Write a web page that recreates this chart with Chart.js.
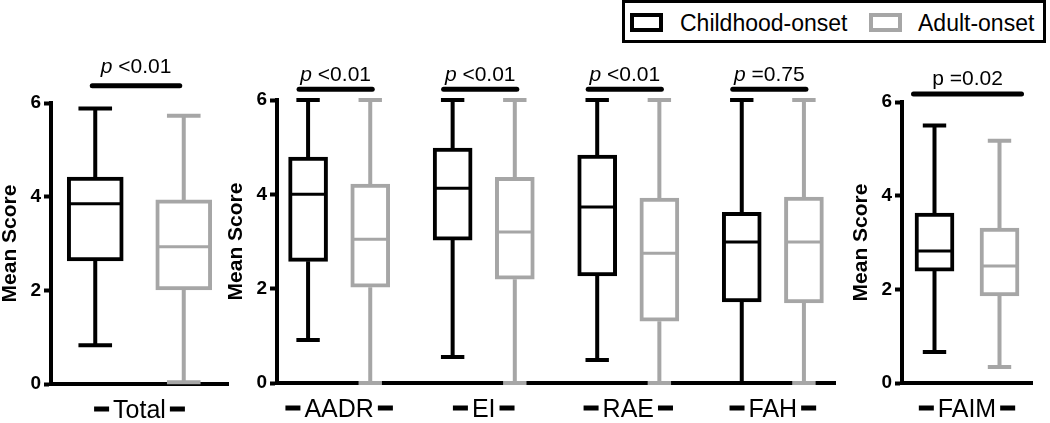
<!DOCTYPE html>
<html>
<head>
<meta charset="utf-8">
<script src="https://cdn.jsdelivr.net/npm/chart.js@4.4.0/dist/chart.umd.min.js"></script>
<style>
  html, body { margin: 0; padding: 0; background: #fff; }
  #wrap { position: relative; width: 1050px; height: 423px; overflow: hidden;
          font-family: "Liberation Sans", Arial, sans-serif; }
  .panel { position: absolute; top: 0; height: 423px; }
  .panel canvas { display: block; }
  #legend { position: absolute; left: 622px; top: 0; width: 424px; height: 43px;
            box-sizing: border-box; border: 3px solid #000; background: #fff; }
  #legend .sw { position: absolute; top: 10px; width: 33px; height: 19px; box-sizing: border-box; border: 4px solid; }
  #legend .lb { position: absolute; top: 7px; font-size: 23px; line-height: 26px; color: #000; }
</style>
</head>
<body>
<div id="wrap">
  <div class="panel" style="left:0;width:240px"><canvas id="c1" width="240" height="423"></canvas></div>
  <div class="panel" style="left:226px;width:619px"><canvas id="c2" width="619" height="423"></canvas></div>
  <div class="panel" style="left:851px;width:199px"><canvas id="c3" width="199" height="423"></canvas></div>
  <div id="legend">
    <div class="sw" style="left:5px;border-color:#000"></div>
    <div class="lb" style="left:55px">Childhood-onset</div>
    <div class="sw" style="left:244px;border-color:#a6a6a6"></div>
    <div class="lb" style="left:293px">Adult-onset</div>
  </div>
</div>
<script>
// categories, in the order they appear left to right
const categories = ['Total', 'AADR', 'EI', 'RAE', 'FAH', 'FAIM'];

// Childhood-onset box stats
const childMin = [0.83, 0.91, 0.55, 0.49, 0.00, 0.66];
const childQ1  = [2.63, 2.58, 3.03, 2.27, 1.72, 2.39];
const childMed = [3.85, 4.00, 4.13, 3.73, 2.99, 2.82];
const childQ3  = [4.42, 4.79, 4.98, 4.83, 3.62, 3.63];
const childMax = [5.88, 6.00, 6.00, 6.00, 6.00, 5.50];

// Adult-onset box stats
const adultMin = [0.04, 0.00, 0.00, 0.00, 0.00, 0.34];
const adultQ1  = [2.01, 2.03, 2.20, 1.31, 1.70, 1.86];
const adultMed = [2.93, 3.05, 3.20, 2.75, 2.99, 2.50];
const adultQ3  = [3.93, 4.22, 4.36, 3.92, 3.94, 3.31];
const adultMax = [5.73, 6.00, 6.00, 6.00, 6.00, 5.17];

// p values above each pair
const pValues = ['<0.01', '<0.01', '<0.01', '<0.01', '=0.75', '=0.02'];
const pItalic = [true, true, true, true, true, false];

const yTicks = [0, 2, 4, 6];

const CHILD_COLOR = '#000000';
const ADULT_COLOR = '#a6a6a6';
const FONT = '"Liberation Sans", Arial, sans-serif';
const GROUP_OFFSET = 0.215;   // half distance between the two boxes, in category units
const EDGE = 0.43;            // axis overhang left/right of outer categories

const boxPlugin = {
  id: 'boxes',
  afterDatasetsDraw(chart) {
    const ctx = chart.ctx;
    const y = chart.scales.y;
    const o = chart.options.plugins.boxes;
    ctx.save();
    ctx.lineCap = 'butt';
    chart.data.datasets.forEach((ds, di) => {
      const meta = chart.getDatasetMeta(di);
      meta.data.forEach((bar, i) => {
        const { x, width } = bar.getProps(['x', 'width'], true);
        const cap = width * 0.6;
        const pMin = y.getPixelForValue(ds.whiskerMin[i]);
        const pMax = y.getPixelForValue(ds.whiskerMax[i]);
        const pQ1 = y.getPixelForValue(ds.data[i].y[0]);
        const pQ3 = y.getPixelForValue(ds.data[i].y[1]);
        const pMed = y.getPixelForValue(ds.median[i]);
        ctx.strokeStyle = ds.borderColor;
        ctx.lineWidth = 4;
        ctx.beginPath();
        ctx.moveTo(x, pQ1); ctx.lineTo(x, pMin);
        ctx.moveTo(x - cap / 2, pMin); ctx.lineTo(x + cap / 2, pMin);
        ctx.moveTo(x, pQ3); ctx.lineTo(x, pMax);
        ctx.moveTo(x - cap / 2, pMax); ctx.lineTo(x + cap / 2, pMax);
        ctx.stroke();
        ctx.lineWidth = 3;
        ctx.beginPath();
        ctx.moveTo(x - width / 2 + 2, pMed); ctx.lineTo(x + width / 2 - 2, pMed);
        ctx.stroke();
      });
    });

    // significance bars + p text
    const m0 = chart.getDatasetMeta(0), m1 = chart.getDatasetMeta(1);
    m0.data.forEach((bar, i) => {
      const x1 = bar.x + o.sigPad[0];
      const x2 = m1.data[i].x + o.sigPad[1];
      const sy = y.getPixelForValue(o.sigLevel);
      ctx.strokeStyle = '#000';
      ctx.lineWidth = 5;
      ctx.lineCap = 'round';
      ctx.beginPath(); ctx.moveTo(x1, sy); ctx.lineTo(x2, sy); ctx.stroke();
      const k = o.from + i;
      const pf = (pItalic[k] ? 'italic ' : '') + '21px ' + FONT;
      const rf = '21px ' + FONT;
      ctx.font = pf; const wp = ctx.measureText('p').width;
      ctx.font = rf; const rest = ' ' + pValues[k]; const wr = ctx.measureText(rest).width;
      const tx = (x1 + x2) / 2 - (wp + wr) / 2;
      const ty = sy - o.textGap;
      ctx.fillStyle = '#000';
      ctx.textBaseline = 'alphabetic';
      ctx.textAlign = 'left';
      ctx.font = pf; ctx.fillText('p', tx, ty);
      ctx.font = rf; ctx.fillText(rest, tx + wp, ty);
    });

    // dashes either side of category labels
    const xs = chart.scales.x;
    ctx.font = '25px ' + FONT;
    ctx.lineWidth = 5;
    ctx.lineCap = 'butt';
    ctx.strokeStyle = '#000';
    xs.ticks.forEach((t) => {
      const px = xs.getPixelForValue(t.value);
      const w = ctx.measureText(categories[o.from + t.value]).width;
      const dy = chart.chartArea.bottom + 25;
      ctx.beginPath();
      ctx.moveTo(px - w / 2 - 4, dy); ctx.lineTo(px - w / 2 - 19, dy);
      ctx.moveTo(px + w / 2 + 4, dy); ctx.lineTo(px + w / 2 + 19, dy);
      ctx.stroke();
    });
    ctx.restore();
  }
};

function boxPanel(id, from, n, o) {
  const cats = categories.slice(from, from + n);
  const pick = (arr) => arr.slice(from, from + n);
  const boxes = (q1, q3, side) => cats.map((c, i) => ({ x: i + side * GROUP_OFFSET, y: [q1[from + i], q3[from + i]] }));
  return new Chart(document.getElementById(id), {
    type: 'bar',
    data: {
      datasets: [
        { label: 'Childhood-onset', data: boxes(childQ1, childQ3, -1),
          whiskerMin: pick(childMin), whiskerMax: pick(childMax), median: pick(childMed),
          borderColor: CHILD_COLOR, backgroundColor: '#fff' },
        { label: 'Adult-onset', data: boxes(adultQ1, adultQ3, 1),
          whiskerMin: pick(adultMin), whiskerMax: pick(adultMax), median: pick(adultMed),
          borderColor: ADULT_COLOR, backgroundColor: '#fff' }
      ]
    },
    options: {
      responsive: false,
      animation: false,
      layout: { padding: { top: o.top, right: o.right, left: 0, bottom: 0 } },
      datasets: { bar: { grouped: false, barThickness: o.barWidth, borderWidth: 4, borderSkipped: false } },
      plugins: {
        legend: { display: false },
        tooltip: { enabled: false },
        boxes: { from: from, sigPad: o.sigPad, sigLevel: o.sigLevel, textGap: o.textGap }
      },
      scales: {
        x: {
          type: 'linear',
          offset: false,
          min: -EDGE,
          max: n - 1 + EDGE,
          afterBuildTicks: (s) => { s.ticks = cats.map((c, i) => ({ value: i })); },
          afterFit: (s) => { s.height = 423 - o.bottom; },
          grid: { display: false, offset: false },
          border: { display: true, width: 4, color: '#000' },
          ticks: {
            autoSkip: false, maxRotation: 0, padding: 4, color: '#000',
            font: { family: FONT, size: 25 },
            callback: (v) => cats[v]
          }
        },
        y: {
          min: 0,
          max: 6,
          afterBuildTicks: (s) => { s.ticks = yTicks.map((v) => ({ value: v })); },
          afterFit: (s) => { s.width = 51; },
          grid: { drawOnChartArea: false, drawTicks: true, tickLength: 7, tickWidth: 4, tickColor: '#000', color: '#000' },
          border: { display: true, width: 4, color: '#000' },
          ticks: { padding: 3, color: '#000', font: { family: FONT, size: 19, weight: 'bold' } },
          title: { display: true, text: 'Mean Score', color: '#000', padding: 0,
                   font: { family: FONT, size: 21, weight: 'bold', lineHeight: 1 } }
        }
      }
    },
    plugins: [boxPlugin]
  });
}

boxPanel('c1', 0, 1, { top: 103, bottom: 384, right: 12, barWidth: 56, sigPad: [-3, -4], sigLevel: 6.37, textGap: 13 });
boxPanel('c2', 1, 4, { top: 100, bottom: 383, right: 10, barWidth: 39, sigPad: [-9, 2], sigLevel: 6.23, textGap: 8 });
boxPanel('c3', 5, 1, { top: 102, bottom: 383, right: 18, barWidth: 39, sigPad: [-21, 22], sigLevel: 6.17, textGap: 9 });
</script>
</body>
</html>
